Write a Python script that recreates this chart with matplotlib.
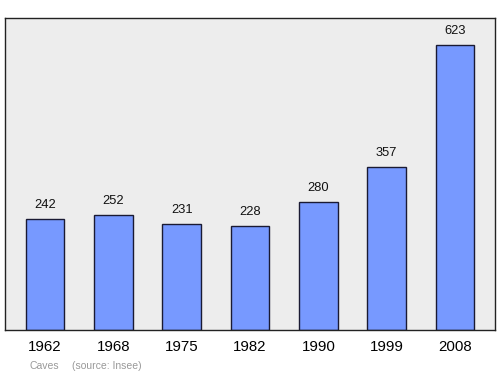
import matplotlib
matplotlib.use("Agg")
import matplotlib.pyplot as plt

# population by census year
years = ["1962", "1968", "1975", "1982", "1990", "1999", "2008"]
population = [242, 252, 231, 228, 280, 357, 623]

plt.rcParams['font.family'] = ['Liberation Sans', 'DejaVu Sans']

fig = plt.figure(figsize=(5, 3.74), dpi=100)
ax = fig.add_axes([0.01, 0.1176, 0.98, 0.834])
ax.set_facecolor('#ededed')

x = range(len(years))
ax.bar(x, population, width=0.57, color='#7799ff', edgecolor='#1a1a33', linewidth=1, zorder=2)

for i, v in enumerate(population):
    ax.text(i, v + 31, str(v), ha='center', va='center', fontsize=9.3, color='#111111')

ax.set_xlim(-0.585, 6.585)
ax.set_ylim(0, 682)
ax.set_xticks(list(x))
ax.set_xticklabels(years, fontsize=10.8)
ax.tick_params(axis='x', length=0, pad=7)
ax.set_yticks([])
for s in ax.spines.values():
    s.set_color('#222222')
    s.set_linewidth(1)

fig.text(0.06, 0.013, "Caves", fontsize=7.5, color='#999999')
fig.text(0.144, 0.013, "(source: Insee)", fontsize=7.5, color='#999999')

fig.savefig("out.png", dpi=100)
